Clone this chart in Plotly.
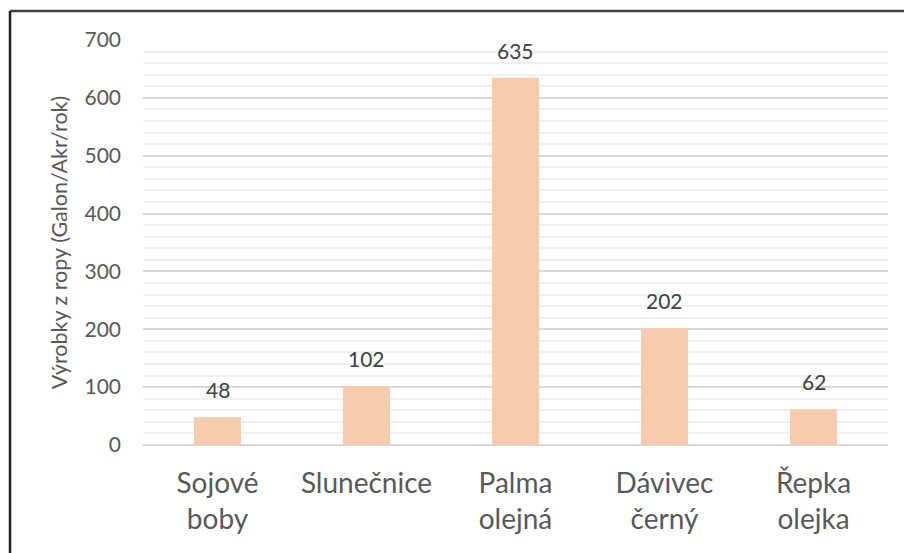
import plotly.graph_objects as go

categories = ["Sojové<br>boby", "Slunečnice", "Palma<br>olejná", "Dávivec<br>černý", "Řepka<br>olejka"]
values = [48, 102, 635, 202, 62]
y_ticks = [0, 100, 200, 300, 400, 500, 600, 700]

txt = "#595959"
font = "Lato, 'Open Sans', sans-serif"

fig = go.Figure(go.Bar(
    x=categories, y=values,
    marker=dict(color="#F8CBAD", line=dict(width=0)),
    hoverinfo="x+y",
))

for c, v in zip(categories, values):
    fig.add_annotation(x=c, y=v, text=str(v), showarrow=False,
                       yanchor="bottom", yshift=13,
                       font=dict(size=21, color="#404040", family=font))

fig.update_layout(
    width=904, height=553,
    margin=dict(l=143, r=16, t=40, b=108),
    plot_bgcolor="white", paper_bgcolor="white",
    bargap=0.685,
    showlegend=False,
    font=dict(family=font, color=txt),
    xaxis=dict(
        tickfont=dict(size=28, color=txt, family=font),
        showgrid=False, showline=False, ticks="", ticklen=0,
        ticklabelstandoff=19,
    ),
    yaxis=dict(
        range=[0, 700],
        tickvals=y_ticks,
        tickfont=dict(size=21, color=txt, family=font),
        showgrid=True, gridcolor="#D9D9D9", gridwidth=1.5,
        minor=dict(dtick=20, showgrid=True, gridcolor="#F0F0F0", gridwidth=1.5),
        zeroline=True, zerolinecolor="#D9D9D9", zerolinewidth=1.5,
        showline=False, ticks="",
        ticklabelstandoff=21,
        title=dict(text="Výrobky z ropy (Galon/Akr/rok)", font=dict(size=21.5, color=txt, family=font), standoff=10),
    ),
    shapes=[
        dict(type="line", xref="paper", yref="paper", x0=-0.1785, x1=1.05, y0=1.0716, y1=1.0716,
             line=dict(color="#404040", width=2.5)),
        dict(type="line", xref="paper", yref="paper", x0=-0.1785, x1=-0.1785, y0=1.0716, y1=-0.3,
             line=dict(color="#202020", width=2.5)),
    ],
)

fig.write_html("out.html", config={"displayModeBar": False},
               post_script="document.body.style.margin='0';")
